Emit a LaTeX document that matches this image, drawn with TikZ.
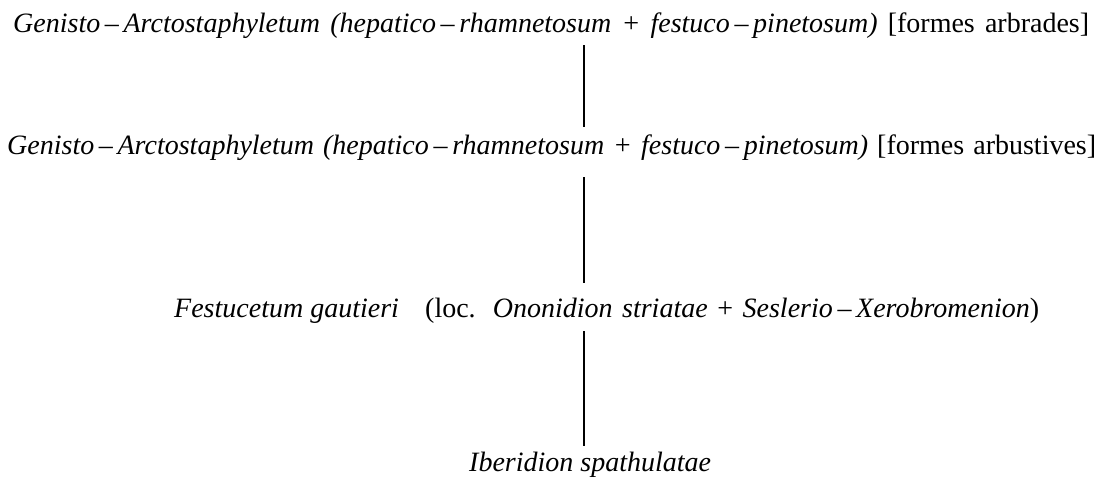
\documentclass[tikz,border=0pt]{standalone}
\usepackage{fontspec}
\setmainfont{Liberation Serif}
\usetikzlibrary{calc}

% a dash between two parts of a name
\newcommand{\nd}{\,--\,}

\begin{document}
\begin{tikzpicture}[x=1pt, y=-1pt, font=\fontsize{28}{31}\selectfont,
    every node/.style={inner sep=0pt, anchor=base west},
    link/.style={line width=2.8pt}]
    \useasboundingbox (0,0) rectangle (1102,478);

    \node (arbrades) at (13,33) {\makebox[1076pt][s]{%
        \textit{Genisto\nd Arctostaphyletum (hepatico\nd rhamnetosum + festuco\nd pinetosum)} [formes arbrades]}};
    \node (arbustives) at (7,155) {\makebox[1089pt][s]{%
        \textit{Genisto\nd Arctostaphyletum (hepatico\nd rhamnetosum + festuco\nd pinetosum)} [formes arbustives]}};
    \node (festucetum) at (174,317) {\textit{Festucetum gautieri}};
    \node (loc) at (425,317) {\makebox[614pt][s]{%
        (loc. \textit{Ononidion striatae} + \textit{Seslerio\nd Xerobromenion})}};
    \node (iberidion) at (469,471) {\textit{Iberidion spathulatae}};

    \coordinate (axis) at (584,0);
    \draw[link] ($(arbrades.south -| axis)+(0,6)$) -- ($(arbustives.north -| axis)+(0,-8)$);
    \draw[link] ($(arbustives.south -| axis)+(0,16)$) -- ($(loc.north -| axis)+(0,-14)$);
    \draw[link] ($(loc.south -| axis)+(0,8)$) -- ($(iberidion.north -| axis)+(0,-5)$);
\end{tikzpicture}
\end{document}
